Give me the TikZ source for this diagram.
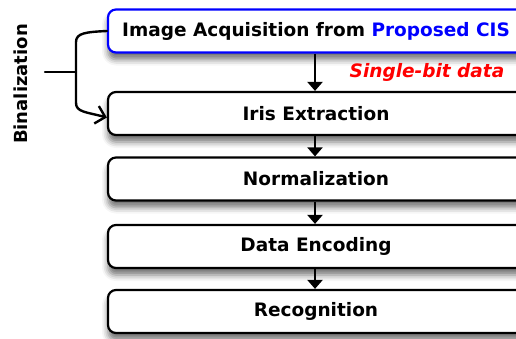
\documentclass[tikz,border=0pt]{standalone}
\usepackage{fontspec}
\setmainfont{DejaVu Sans}
\usetikzlibrary{arrows.meta,shadows.blur}

\tikzstyle{stepbox} = [draw,rectangle,rounded corners=8pt,line width=2.2pt,fill=white,
  minimum width=416pt,minimum height=43pt,font=\fontsize{18.5}{21}\selectfont\bfseries,
  blur shadow={shadow xshift=0pt,shadow yshift=-7pt,shadow blur radius=6pt,shadow opacity=55}]
\tikzstyle{flowarrow} = [draw,line width=2.2pt,-{Triangle[width=15pt,length=9pt]}]
\tikzstyle{bracket} = [draw,line width=2.4pt,line cap=round]
\tikzstyle{note} = [font=\fontsize{18.5}{21}\selectfont\bfseries\itshape,text=red]

\begin{document}
\begin{tikzpicture}[x=1pt,y=-1pt]
      \clip (0,0) rectangle (516,338);
      %boxes
      \foreach \nodename/\y/\label in {
        iris/113.5/Iris Extraction,
        norm/179/Normalization,
        enc/246.5/Data Encoding,
        rec/311.5/Recognition}
      {
        \node[stepbox] (\nodename) at (316,\y) {\label};
      };
      \node[stepbox, draw=blue] (acq) at (316,31)
        {Image Acquisition from \textcolor{blue}{Proposed CIS}};
      %edges
      \path
      \foreach \startnode/\endnode in {
        acq/iris, iris/norm, norm/enc, enc/rec}
      {
        (\startnode.south -| 315,0) edge[flowarrow] (\endnode.north -| 315,0)
      };
      \node[note] (bits) at (427,72) {Single-bit data};
      %binalization bracket
      \node[font=\fontsize{18}{21}\selectfont\bfseries, rotate=90] (bin) at (21,84) {Binalization};
      \coordinate (fork) at (76,72);
      \coordinate (stem) at (45,72);
      \draw[bracket] (stem) -- (fork);
      \draw[bracket] (acq.west) .. controls (86,32) and (76,33) .. (76,42) -- (76,103);
      \draw[bracket,-{Straight Barb[length=9pt,width=18pt,line width=2.4pt]}]
        (76,103) .. controls (76,112) and (86,112) .. ([yshift=-4pt]iris.west);
\end{tikzpicture}
\end{document}
